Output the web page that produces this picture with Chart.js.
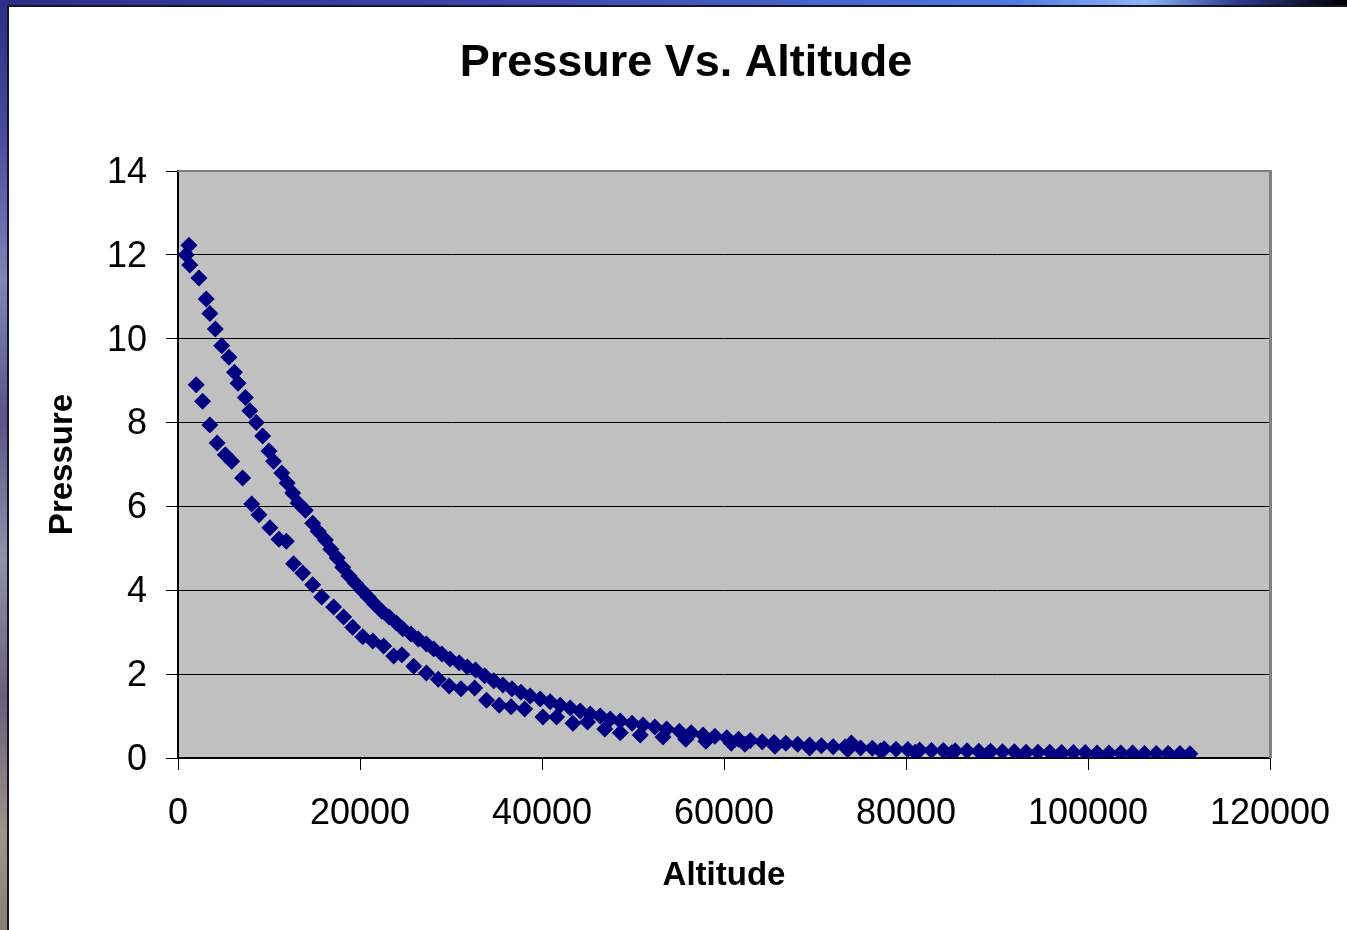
<!DOCTYPE html>
<html>
<head>
<meta charset="utf-8">
<script src="https://cdn.jsdelivr.net/npm/chart.js@4.4.1/dist/chart.umd.min.js"></script>
<style>
  html, body { margin: 0; padding: 0; width: 1347px; height: 930px; overflow: hidden; }
  body { position: relative; background: linear-gradient(to bottom, #2b2f86 0%, #4a4c9c 15%, #7f86b8 30%, #5a5488 45%, #8f93a8 60%, #6b5e78 75%, #a29488 90%, #8a7c74 100%); }
  #topstrip { position: absolute; left: 0; top: 0; width: 1347px; height: 6px;
    background: linear-gradient(to right, #2b2f86 0%, #3c48b0 40%, #4f78e0 75%, #8fb4f4 85%, #2a3a8a 92%, #000 100%); }
  #panel { position: absolute; left: 7px; top: 5px; width: 1340px; height: 925px; background: #fff;
    border-left: 2px solid #141430; border-top: 2px solid #141430; box-sizing: border-box; }
  #wrap { position: absolute; left: 0; top: 0; width: 1347px; height: 930px; }
</style>
</head>
<body>
<div id="topstrip"></div>
<div id="panel"></div>
<div id="wrap"><canvas id="c" width="1347" height="930"></canvas></div>
<script>
// ---- Data ----
const upperAltitude = [900,1200,1300,2300,3100,3500,4100,4800,5600,6200,6600,7400,7900,8600,9300,10000,10500,11400,12000,12600,13200,14000,14800,15400,16200,16800,17500,18100,18800,19500,20200,20900,21600,22400,23200,24000,24700,25600,26400,27300,28100,29000,29900,30900,31800,32700,33700,34700,35700,36700,37700,38700,39800,40900,42000,43100,44200,45300,46400,47500,48600,49900,51100,52400,53700,55100,56400,57700,59000,60300,61600,62900,64200,65500,66800,68100,69400,70700,72000,73300,74000,75000,76300,77600,78900,80200,81500,82800,84100,85400,86700,88000,89300,90600,91900,93200,94500,95800,97100,98400,99700,101000,102300,103600,104900,106200,107500,108800,110100,111200];
const upperPressure = [12.0,12.23,11.76,11.45,10.95,10.6,10.23,9.83,9.56,9.2,8.94,8.6,8.28,8.0,7.68,7.32,7.08,6.8,6.56,6.32,6.08,5.91,5.6,5.41,5.2,4.98,4.77,4.55,4.34,4.17,4.0,3.84,3.67,3.5,3.36,3.22,3.08,2.96,2.84,2.72,2.6,2.48,2.36,2.27,2.17,2.1,1.96,1.84,1.74,1.65,1.57,1.48,1.41,1.34,1.26,1.19,1.12,1.05,1.0,0.93,0.88,0.83,0.79,0.74,0.69,0.64,0.6,0.55,0.52,0.48,0.45,0.42,0.39,0.37,0.35,0.33,0.31,0.29,0.27,0.26,0.36,0.24,0.23,0.22,0.21,0.2,0.19,0.18,0.18,0.17,0.17,0.16,0.16,0.15,0.15,0.14,0.14,0.14,0.13,0.13,0.13,0.12,0.12,0.12,0.12,0.11,0.11,0.11,0.11,0.1];

const lowerAltitude = [2000,2700,3500,4300,5200,5900,7100,8100,8900,10100,11100,11900,12700,13700,14800,15800,17100,18200,19200,20300,21400,22600,23700,24600,25900,27300,28600,29800,31100,32600,33900,35300,36600,38100,40100,41600,43400,45000,46900,48600,50800,53300,55800,58000,60800,62300,65600,69400,73600,77200,81000,85000,89000,93000,97000,101000,105000,109000];
const lowerPressure = [8.9,8.51,7.94,7.51,7.23,7.08,6.68,6.06,5.8,5.49,5.22,5.17,4.63,4.41,4.13,3.84,3.6,3.36,3.12,2.89,2.79,2.67,2.43,2.46,2.19,2.03,1.88,1.72,1.65,1.67,1.38,1.26,1.22,1.17,0.98,0.98,0.83,0.86,0.69,0.6,0.55,0.5,0.45,0.4,0.35,0.33,0.28,0.24,0.2,0.17,0.14,0.12,0.1,0.09,0.08,0.08,0.07,0.07];

const xTicks = [0, 20000, 40000, 60000, 80000, 100000, 120000];
const yTicks = [0, 2, 4, 6, 8, 10, 12, 14];
const chartTitle = 'Pressure Vs. Altitude';
const xTitle = 'Altitude';
const yTitle = 'Pressure';

const toPoints = (xs, ys) => xs.map((x, i) => ({x: x, y: ys[i]}));
const FONT = 'Arial, "Liberation Sans", Helvetica, sans-serif';

const plotBg = {
  id: 'plotBg',
  beforeDraw(chart) {
    const {ctx, chartArea: a} = chart;
    ctx.save();
    ctx.fillStyle = '#C0C0C0';
    ctx.fillRect(a.left, a.top, a.right - a.left, a.bottom - a.top);
    ctx.restore();
  },
  afterDatasetsDraw(chart) {
    const {ctx, chartArea: a} = chart;
    ctx.save();
    ctx.strokeStyle = '#808080';
    ctx.lineWidth = 2;
    ctx.beginPath();
    ctx.moveTo(a.left, a.top);
    ctx.lineTo(a.right + 1, a.top);
    ctx.stroke();
    ctx.lineWidth = 3;
    ctx.beginPath();
    ctx.moveTo(a.right + 0.5, a.top - 1);
    ctx.lineTo(a.right + 0.5, a.bottom);
    ctx.stroke();
    ctx.restore();
  }
};

new Chart(document.getElementById('c'), {
  type: 'scatter',
  data: {
    datasets: [
      { data: toPoints(upperAltitude, upperPressure), pointStyle: 'rectRot', pointRadius: 8.5,
        backgroundColor: '#000080', borderColor: '#000080', borderWidth: 0, pointHoverRadius: 8.5 },
      { data: toPoints(lowerAltitude, lowerPressure), pointStyle: 'rectRot', pointRadius: 8.5,
        backgroundColor: '#000080', borderColor: '#000080', borderWidth: 0, pointHoverRadius: 8.5 }
    ]
  },
  options: {
    responsive: false,
    animation: false,
    devicePixelRatio: 1,
    events: [],
    layout: { padding: { left: 25, right: 0, top: 0, bottom: 0 } },
    plugins: {
      legend: { display: false },
      tooltip: { enabled: false },
      title: {
        display: true, text: chartTitle, color: '#000',
        font: { family: FONT, size: 45, weight: 'bold' },
        padding: { top: 37, bottom: 80 }
      }
    },
    scales: {
      x: {
        type: 'linear', min: 0, max: 120000,
        afterBuildTicks(scale) { scale.ticks = xTicks.map(v => ({value: v})); },
        afterFit(scale) { scale.height = 172; scale.paddingRight = 77; },
        ticks: { color: '#000', font: { family: FONT, size: 36 }, padding: 22, maxRotation: 0, autoSkip: false,
          callback: v => String(v) },
        grid: { drawOnChartArea: false, drawTicks: true, tickLength: 12, color: '#000', lineWidth: 1 },
        border: { display: true, color: '#000', width: 2 },
        title: { display: true, text: xTitle, color: '#000', font: { family: FONT, size: 33, weight: 'bold' },
          padding: { top: 0, bottom: 34 } }
      },
      y: {
        type: 'linear', min: 0, max: 14,
        afterBuildTicks(scale) { scale.ticks = yTicks.map(v => ({value: v})); },
        afterFit(scale) { scale.width = 153; },
        ticks: { color: '#000', font: { family: FONT, size: 36 }, padding: 19, autoSkip: false, labelOffset: 2,
          callback: v => String(v) },
        grid: { drawOnChartArea: true, drawTicks: true, tickLength: 12, color: '#000', lineWidth: 1 },
        border: { display: true, color: '#000', width: 2 },
        title: { display: true, text: yTitle, color: '#000', font: { family: FONT, size: 33, weight: 'bold' },
          padding: { top: 18, bottom: 0 } }
      }
    }
  },
  plugins: [plotBg]
});
</script>
</body>
</html>
